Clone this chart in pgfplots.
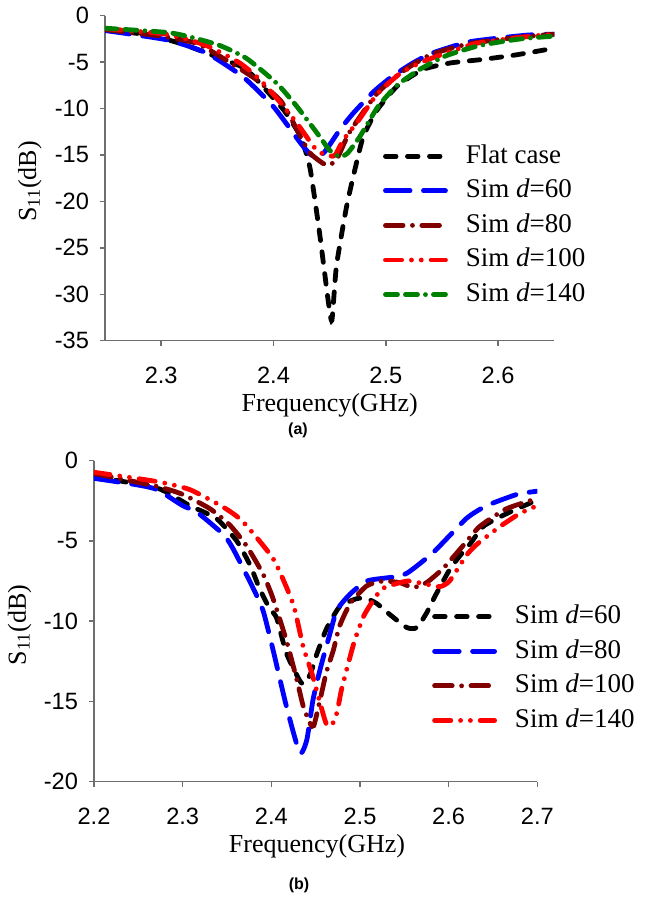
\documentclass[border=0pt]{standalone}
\usepackage{pgfplots}
\pgfplotsset{compat=1.18}
\usepackage{fontspec}
\setmainfont{Liberation Serif}
\newfontfamily\arialfont{Liberation Sans}
\definecolor{dred}{RGB}{128,0,0}
\definecolor{dgreen}{RGB}{0,128,0}
\definecolor{axgray}{RGB}{110,110,110}
\pgfplotsset{
  mystyle/.style={
    scale only axis,
    axis x line*=bottom, axis y line*=left,
    axis line style={axgray, line width=0.7pt, -},
    tick style={axgray, line width=0.7pt},
    tick align=outside, major tick length=2.5pt,
    /pgf/number format/assume math mode=true,
    tick label style={font=\arialfont\fontsize{11.8}{12}\selectfont, text=black},
    xticklabel style={/pgf/number format/fixed, /pgf/number format/precision=1, /pgf/number format/fixed zerofill, yshift=-7pt},
    yticklabel style={xshift=-2pt},
    xlabel={Frequency(GHz)},
    ylabel={S\textsubscript{11}(dB)},
    label style={font=\fontsize{13}{14}\selectfont},
    legend style={draw=none, fill=none, inner sep=0pt,
      font=\fontsize{13.5}{16}\selectfont,
      nodes={inner sep=1pt, text height=9.5pt, text depth=2.5pt},
      row sep=3.3pt, anchor=north west,
      /tikz/every odd column/.append style={column sep=8pt}},
    legend cell align=left,
    legend image code/.code={\draw[##1] (0pt,0pt) -- (30pt,0pt);},
    every axis plot/.append style={line width=2.4pt, line cap=round, smooth, tension=0.35},
  },
  sflat/.style={black, dash pattern=on 5.3pt off 5.7pt},
  sblue/.style={blue, dash pattern=on 12.3pt off 6.7pt},
  sdred/.style={dred, dash pattern=on 8.8pt off 4.7pt on 0pt off 4.7pt},
  sred/.style={red, dash pattern=on 8.1pt off 4.9pt on 0pt off 4.9pt on 0pt off 4.9pt},
  sgreen/.style={dgreen, dash pattern=on 6pt off 4pt on 6pt off 4pt on 0pt off 4pt},
}
\begin{document}
\begin{tikzpicture}
\useasboundingbox (0,0) rectangle (323.5pt,449pt);
\begin{axis}[mystyle,
  at={(52.5pt,278.65pt)}, anchor=south west,
  width=224.65pt, height=162.5pt,
  xmin=2.25, xmax=2.65, ymin=-35, ymax=0,
  xtick={2.3,2.4,2.5,2.6}, ytick={0,-5,-10,-15,-20,-25,-30,-35},
  xlabel style={at={(axis description cs:0.5,-0.2)}, anchor=center},
  ylabel style={at={(axis description cs:-0.167,0.49)}, anchor=center},
  legend style={at={(0.618,0.612)}},
]
\addplot[sflat] coordinates {
(2.25,-1.5) (2.29,-2.1) (2.32,-3.1) (2.355,-4.7) (2.376,-5.8) (2.40,-8.9) (2.41,-10.3)
(2.424,-13.0) (2.4325,-16.4) (2.441,-23.4) (2.4486,-30.6) (2.452,-32.8) (2.456,-27.0)
(2.465,-20.6) (2.473,-16.3) (2.48,-13.0) (2.492,-10.2) (2.51,-7.6) (2.533,-5.8)
(2.557,-5.1) (2.587,-4.7) (2.617,-4.2) (2.65,-3.5)};
\addlegendentry{Flat case}
\addplot[sblue] coordinates {
(2.25,-1.6) (2.305,-2.6) (2.34,-4.0) (2.373,-6.6) (2.40,-9.8) (2.424,-13.7) (2.4325,-14.9)
(2.439,-15.3) (2.446,-14.6) (2.459,-12.3) (2.471,-10.5) (2.489,-8.2) (2.505,-6.6)
(2.524,-5.1) (2.542,-4.0) (2.575,-2.8) (2.625,-2.1) (2.65,-2.0)};
\addlegendentry{Sim \textit{d}=60}
\addplot[sdred] coordinates {
(2.25,-1.5) (2.30,-2.2) (2.332,-3.0) (2.358,-4.8) (2.385,-6.9) (2.406,-9.1) (2.415,-10.9)
(2.424,-13.0) (2.4325,-14.8) (2.444,-15.9) (2.45,-16.1) (2.457,-15.3) (2.468,-12.5)
(2.492,-8.4) (2.515,-6.0) (2.54,-4.2) (2.575,-3.0) (2.62,-2.3) (2.65,-2.0)};
\addlegendentry{Sim \textit{d}=80}
\addplot[sred] coordinates {
(2.25,-1.4) (2.305,-2.0) (2.34,-3.2) (2.37,-5.1) (2.388,-6.9) (2.405,-9.2) (2.421,-11.6)
(2.4385,-14.5) (2.45,-15.1) (2.455,-15.0) (2.462,-13.4) (2.475,-11.4) (2.492,-8.5)
(2.513,-6.2) (2.536,-4.8) (2.58,-3.0) (2.63,-2.2) (2.65,-2.0)};
\addlegendentry{Sim \textit{d}=100}
\addplot[sgreen] coordinates {
(2.25,-1.35) (2.305,-1.8) (2.326,-2.3) (2.352,-3.2) (2.376,-4.6) (2.403,-7.3) (2.421,-9.8)
(2.441,-13.0) (2.45,-14.5) (2.459,-15.2) (2.466,-14.8) (2.477,-13.0) (2.493,-9.8)
(2.51,-7.5) (2.53,-5.8) (2.554,-4.3) (2.584,-3.2) (2.62,-2.5) (2.65,-2.2)};
\addlegendentry{Sim \textit{d}=140}
\end{axis}
\node[font=\arialfont\bfseries\fontsize{8}{9}\selectfont] at (149pt,234pt) {(a)};
\begin{axis}[mystyle,
  at={(47pt,58.15pt)}, anchor=south west,
  width=221.65pt, height=160.5pt,
  xmin=2.2, xmax=2.7, ymin=-20, ymax=0,
  xtick={2.2,2.3,2.4,2.5,2.6,2.7}, ytick={0,-5,-10,-15,-20},
  xlabel style={at={(axis description cs:0.503,-0.2)}, anchor=center},
  ylabel style={at={(axis description cs:-0.168,0.488)}, anchor=center},
  legend style={at={(0.762,0.559)}},
]
\addplot[sflat] coordinates {
(2.20,-1.0) (2.271,-1.7) (2.308,-2.8) (2.338,-3.6) (2.361,-5.0) (2.376,-6.5) (2.387,-8.0)
(2.398,-9.2) (2.406,-9.8) (2.417,-12.0) (2.432,-13.7) (2.437,-13.9) (2.444,-13.3)
(2.451,-12.1) (2.462,-10.5) (2.477,-9.1) (2.496,-8.6) (2.5075,-8.6) (2.519,-8.9)
(2.534,-9.6) (2.553,-10.4) (2.564,-10.4) (2.575,-9.5) (2.586,-8.3) (2.601,-6.8)
(2.613,-5.9) (2.624,-5.2) (2.639,-4.1) (2.658,-3.5) (2.677,-3.0) (2.70,-2.45)};
\addlegendentry{Sim \textit{d}=60}
\addplot[sblue] coordinates {
(2.20,-1.1) (2.248,-1.5) (2.271,-1.8) (2.30,-2.8) (2.316,-3.2) (2.346,-4.6) (2.357,-5.5)
(2.38,-8.0) (2.391,-9.4) (2.402,-11.8) (2.417,-15.3) (2.432,-18.2) (2.44,-17.4)
(2.447,-14.9) (2.455,-13.0) (2.466,-10.8) (2.474,-9.3) (2.489,-8.3) (2.5075,-7.5)
(2.53,-7.3) (2.545,-7.2) (2.556,-6.9) (2.583,-5.7) (2.62,-3.6) (2.643,-2.8)
(2.677,-2.1) (2.70,-1.9)};
\addlegendentry{Sim \textit{d}=80}
\addplot[sdred] coordinates {
(2.20,-0.8) (2.271,-1.6) (2.30,-2.1) (2.331,-3.0) (2.353,-4.0) (2.372,-5.3) (2.391,-7.1)
(2.402,-8.6) (2.417,-11.2) (2.429,-13.7) (2.436,-15.3) (2.444,-16.4) (2.448,-16.5)
(2.455,-14.9) (2.462,-13.2) (2.47,-11.8) (2.477,-10.3) (2.489,-8.9) (2.5075,-7.8)
(2.526,-7.5) (2.545,-7.6) (2.56,-7.9) (2.575,-7.6) (2.594,-6.7) (2.617,-5.25)
(2.635,-4.1) (2.665,-3.0) (2.70,-2.35)};
\addlegendentry{Sim \textit{d}=100}
\addplot[sred] coordinates {
(2.20,-0.72) (2.271,-1.3) (2.308,-1.8) (2.346,-2.9) (2.368,-3.8) (2.402,-6.1) (2.421,-8.4)
(2.427,-9.4) (2.436,-11.6) (2.4455,-13.2) (2.455,-15.1) (2.462,-16.4) (2.468,-16.5)
(2.474,-15.7) (2.479,-14.3) (2.487,-12.6) (2.494,-11.2) (2.504,-9.7) (2.515,-8.7)
(2.526,-7.95) (2.553,-7.5) (2.575,-7.7) (2.59,-7.85) (2.601,-7.5) (2.62,-5.9)
(2.632,-5.2) (2.658,-4.1) (2.68,-3.3) (2.70,-2.8)};
\addlegendentry{Sim \textit{d}=140}
\end{axis}
\node[font=\arialfont\bfseries\fontsize{8}{9}\selectfont] at (149.5pt,6.5pt) {(b)};
\end{tikzpicture}
\end{document}
